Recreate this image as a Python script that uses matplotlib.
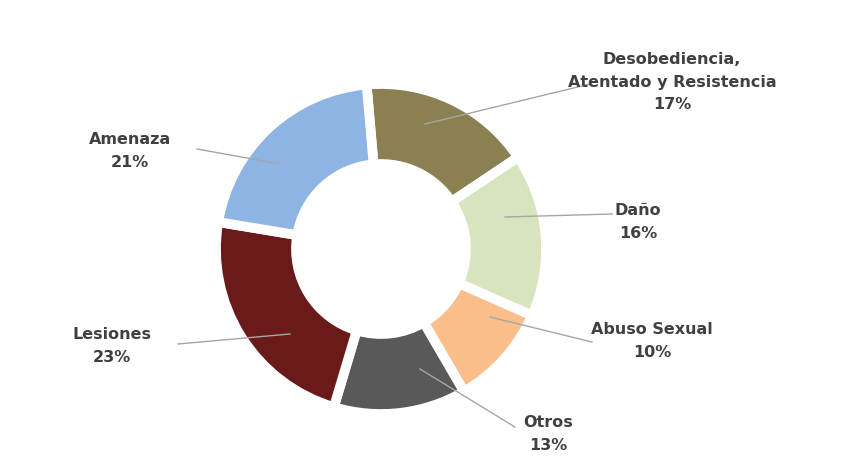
import matplotlib.pyplot as plt

labels = ["Desobediencia,\nAtentado y Resistencia", "Daño", "Abuso Sexual",
          "Otros", "Lesiones", "Amenaza"]
shares = [17, 16, 10, 13, 23, 21]
colors = ["#8B8052", "#D7E4BD", "#F9BE8A", "#595959", "#6B1A1A", "#8DB4E2"]

# label text position and leader line start, in pixel coords (y from top)
text_pos = [(672, 82), (638, 222), (652, 341), (548, 434), (112, 346), (130, 151)]
line_from = [(425, 125), (505, 218), (490, 318), (420, 370), (290, 335), (280, 165)]
line_to = [(590, 85), (612, 215), (592, 343), (515, 428), (178, 345), (197, 150)]

W, H = 848, 477
fig = plt.figure(figsize=(W / 100, H / 100), dpi=100)
ax = fig.add_axes([0, 0, 1, 1])

ax.pie(shares, colors=colors, startangle=95, counterclock=False,
       center=(381, H - 250), radius=165,
       wedgeprops=dict(width=80, edgecolor="white", linewidth=7))
ax.set_xlim(0, W)
ax.set_ylim(0, H)
ax.set_aspect("auto")
ax.axis("off")

for lab, pct, (tx, ty), (x0, y0), (x1, y1) in zip(labels, shares, text_pos,
                                                   line_from, line_to):
    ax.plot([x0, x1], [H - y0, H - y1], color="#A6A6A6", linewidth=1)
    ax.text(tx, H - ty, f"{lab}\n{pct}%", ha="center", va="center",
            fontsize=11.5, fontweight="bold", color="#404040",
            linespacing=1.6)

fig.savefig("out.png", dpi=100)
